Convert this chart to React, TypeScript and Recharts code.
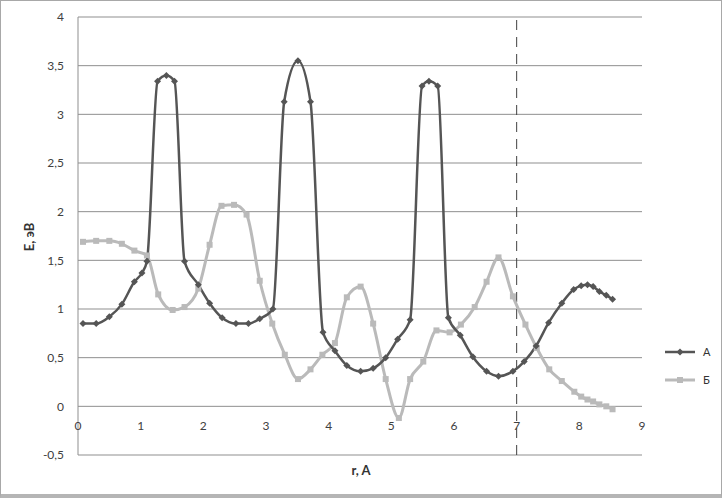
import { CartesianGrid, Line, LineChart, ReferenceLine, XAxis, YAxis } from "recharts";

// series A (dark, diamonds)
const aR = [0.08, 0.29, 0.5, 0.7, 0.9, 1.02, 1.1, 1.27, 1.41, 1.54, 1.7, 1.92, 2.1, 2.3, 2.52, 2.72, 2.9, 3.11, 3.29, 3.51, 3.71, 3.91, 4.1, 4.29, 4.51, 4.71, 4.91, 5.1, 5.3, 5.49, 5.6, 5.74, 5.91, 6.1, 6.3, 6.52, 6.71, 6.94, 7.12, 7.31, 7.51, 7.72, 7.91, 8.03, 8.13, 8.22, 8.32, 8.43, 8.53];
const aE = [0.85, 0.85, 0.92, 1.05, 1.28, 1.37, 1.49, 3.34, 3.4, 3.34, 1.49, 1.25, 1.06, 0.91, 0.85, 0.85, 0.9, 1.0, 3.13, 3.55, 3.13, 0.76, 0.57, 0.42, 0.36, 0.39, 0.5, 0.69, 0.89, 3.29, 3.34, 3.29, 0.91, 0.73, 0.51, 0.36, 0.31, 0.36, 0.46, 0.62, 0.86, 1.06, 1.2, 1.24, 1.25, 1.23, 1.18, 1.14, 1.1];

// series Б (light, squares)
const bR = [0.08, 0.29, 0.5, 0.7, 0.9, 1.1, 1.28, 1.51, 1.7, 1.92, 2.1, 2.29, 2.49, 2.69, 2.9, 3.1, 3.3, 3.51, 3.71, 3.9, 4.1, 4.29, 4.51, 4.71, 4.91, 5.12, 5.3, 5.51, 5.72, 5.93, 6.11, 6.33, 6.52, 6.71, 6.94, 7.14, 7.32, 7.52, 7.72, 7.92, 8.03, 8.13, 8.22, 8.32, 8.43, 8.53];
const bE = [1.69, 1.7, 1.7, 1.67, 1.6, 1.55, 1.15, 0.99, 1.02, 1.21, 1.66, 2.06, 2.07, 1.97, 1.29, 0.85, 0.53, 0.28, 0.38, 0.53, 0.65, 1.12, 1.23, 0.85, 0.28, -0.12, 0.28, 0.46, 0.78, 0.76, 0.84, 1.02, 1.28, 1.53, 1.13, 0.84, 0.6, 0.38, 0.26, 0.15, 0.1, 0.07, 0.05, 0.02, 0.0, -0.03];

const xTicks = [0, 1, 2, 3, 4, 5, 6, 7, 8, 9];
const yTicks = [-0.5, 0, 0.5, 1, 1.5, 2, 2.5, 3, 3.5, 4];

const dataA = aR.map((r, i) => ({ r, e: aE[i] }));
const dataB = bR.map((r, i) => ({ r, e: bE[i] }));

const DARK = "#555555";
const LIGHT = "#bababa";
const FONT = "Lato, 'Open Sans', sans-serif";

const Diamond = (props: any) => {
  const { cx, cy } = props;
  if (cx == null || cy == null) return null;
  return <path d={`M${cx},${cy - 3.5}L${cx + 3.5},${cy}L${cx},${cy + 3.5}L${cx - 3.5},${cy}Z`} fill={DARK} />;
};

const Square = (props: any) => {
  const { cx, cy } = props;
  if (cx == null || cy == null) return null;
  return <rect x={cx - 3} y={cy - 3} width={6} height={6} fill={LIGHT} />;
};

const XTick = (props: any) => {
  const { x, y, payload } = props;
  return (
    <text x={x} y={y - 42} dy="0.71em" textAnchor="middle" fontSize={12} fill="#404040" fontFamily={FONT}>
      {payload.value}
    </text>
  );
};

export default function App() {
  return (
    <div
      style={{
        position: "absolute",
        left: 0,
        top: 0,
        width: 722,
        height: 498,
        boxSizing: "border-box",
        border: "1px solid #a8a8a8",
        borderBottom: "4px solid #b5b5b5",
        background: "#fff",
        fontFamily: FONT,
      }}
    >
      <div style={{ position: "absolute", left: -1, top: -1 }}>
        <LineChart width={722} height={498} margin={{ top: 17, right: 80, left: 0, bottom: 0 }}>
          <CartesianGrid vertical={false} stroke="#8f8f8f" strokeWidth={1} />
          <XAxis
            type="number"
            dataKey="r"
            domain={[0, 9]}
            ticks={xTicks}
            height={43}
            axisLine={false}
            tickLine={false}
            tick={<XTick />}
            allowDataOverflow
          />
          <YAxis
            type="number"
            domain={[-0.5, 4]}
            ticks={yTicks}
            width={78}
            axisLine={{ stroke: "#8f8f8f" }}
            tickLine={false}
            tickSize={0}
            tickMargin={14}
            tick={{ fontSize: 12, fill: "#404040", fontFamily: FONT }}
            tickFormatter={(v: number) => String(v).replace(".", ",")}
            allowDataOverflow
          />
          <ReferenceLine x={7} stroke="#404040" strokeDasharray="10 7" strokeWidth={1} />
          <Line
            data={dataB}
            dataKey="e"
            type="monotone"
            stroke={LIGHT}
            strokeWidth={3}
            dot={<Square />}
            activeDot={false}
            isAnimationActive={false}
          />
          <Line
            data={dataA}
            dataKey="e"
            type="monotone"
            stroke={DARK}
            strokeWidth={2.5}
            dot={<Diamond />}
            activeDot={false}
            isAnimationActive={false}
          />
        </LineChart>
      </div>
      <div
        style={{
          position: "absolute",
          left: 28,
          top: 236,
          transform: "translate(-50%, -50%) rotate(-90deg)",
          fontSize: 13,
          fontWeight: "bold",
          color: "#333",
          whiteSpace: "nowrap",
        }}
      >
        E, эВ
      </div>
      <div
        style={{
          position: "absolute",
          left: 360,
          top: 469,
          transform: "translate(-50%, -50%)",
          fontSize: 13,
          fontWeight: "bold",
          color: "#333",
          whiteSpace: "nowrap",
        }}
      >
        r, A
      </div>
      <div style={{ position: "absolute", left: 663, top: 337, fontSize: 11, color: "#333", lineHeight: "28px" }}>
        <div style={{ display: "flex", alignItems: "center" }}>
          <svg width={32} height={10}>
            <line x1={1} y1={5} x2={31} y2={5} stroke={DARK} strokeWidth={2.5} />
            <path d="M16,1.5L19.5,5L16,8.5L12.5,5Z" fill={DARK} />
          </svg>
          <span style={{ marginLeft: 7 }}>А</span>
        </div>
        <div style={{ display: "flex", alignItems: "center" }}>
          <svg width={32} height={10}>
            <line x1={1} y1={5} x2={31} y2={5} stroke={LIGHT} strokeWidth={3} />
            <rect x={13} y={2} width={6} height={6} fill={LIGHT} />
          </svg>
          <span style={{ marginLeft: 7 }}>Б</span>
        </div>
      </div>
    </div>
  );
}
